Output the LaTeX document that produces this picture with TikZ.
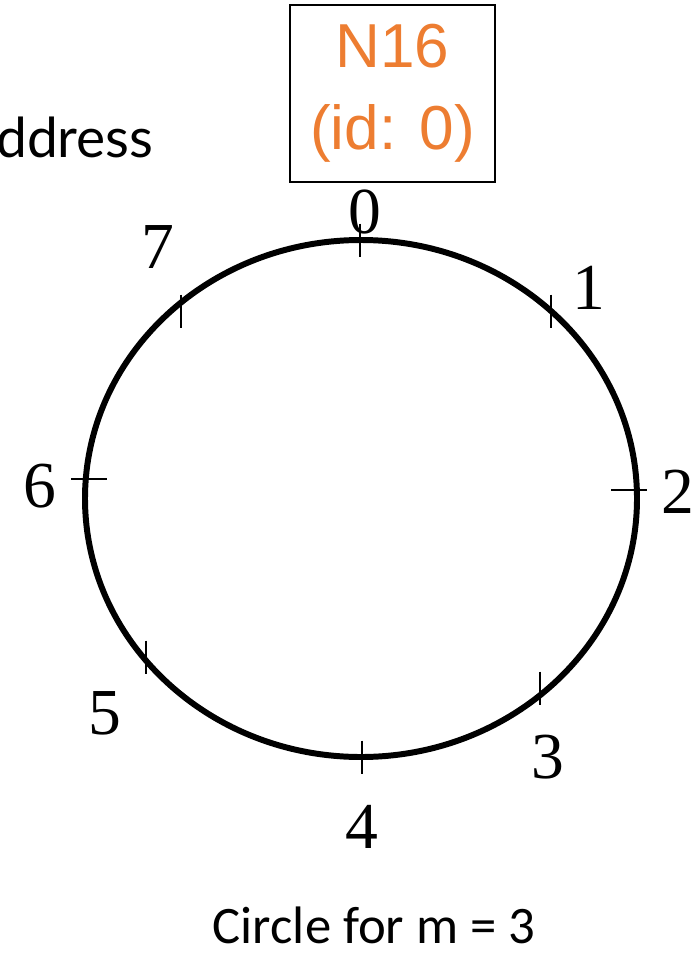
\documentclass[tikz,border=0pt]{standalone}
\usepackage{fontspec}
\setmainfont{Liberation Serif}
\newfontfamily\boxfont{Liberation Sans}
\newfontfamily\slidefont{Lato}
\newfontfamily\capfont{Carlito}
\usetikzlibrary{calc}
\definecolor{slideorange}{RGB}{237,125,49}

\begin{document}
\begin{tikzpicture}[x=0.03cm,y=-0.03cm,line cap=butt]
  \useasboundingbox (0,0) rectangle (694,953);
  \clip (0,0) rectangle (694,953);
  % the identifier ring
  \draw[line width=5.1pt] (361,498.5) ellipse [x radius=276, y radius=258.5];
  % ticks on the ring, vertical ones first
  \foreach \p/\x/\y in {0/360/240,1/551/311,3/540/688,4/362/757,5/146/657,7/181/311}{
    \coordinate (t\p) at (\x,\y);
    \draw[line width=1.5pt] ($(t\p)+(0,-16.5)$) -- ($(t\p)+(0,16.5)$);
  }
  \foreach \p/\x/\y in {2/629/490,6/89/479}{
    \coordinate (t\p) at (\x,\y);
    \draw[line width=1.5pt] ($(t\p)+(-18,0)$) -- ($(t\p)+(18,0)$);
  }
  % identifiers
  \foreach \p/\x/\y in {0/365/212,1/589/288,2/678/492,3/548/757,4/362/827,5/105/713,6/40/486,7/158/247}{
    \node[font=\fontsize{56}{60}\selectfont,inner sep=0pt] (l\p) at (\x,\y) {\p};
  }
  % the node sitting at identifier 0
  \node[draw,line width=1.6pt,minimum width=205*0.03cm,minimum height=177*0.03cm,inner sep=0pt,
        align=center,text=slideorange,font=\boxfont\fontsize{53}{70}\selectfont] (n16) at (392.5,93.5)
        {N16\\(id: 0)};
  \node[anchor=base west,inner sep=0pt,font=\slidefont\fontsize{47}{56}\selectfont] (addr) at (-4,157) {ddress};
  \node[anchor=base,inner sep=0pt,font=\capfont\fontsize{45}{52}\selectfont] (cap) at (374,943) {Circle for m = 3};
\end{tikzpicture}
\end{document}
